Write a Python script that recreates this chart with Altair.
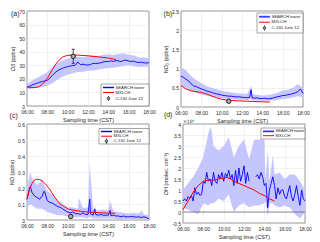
import altair as alt
import pandas as pd

FONT = "Liberation Sans"
BLUE = "#0000ff"
RED = "#ff0000"
BAND = "#c6c6ff"

# ---------- time grids (hours) ----------
T15 = [6 + 0.25 * i for i in range(49)]
T30 = [6 + 0.5 * i for i in range(25)]

# ---------- (a) O3 ----------
o3_blue = [13.8, 14.5, 15.5, 16.2, 16.8, 17.5, 18.0, 18.5, 19.0, 20.5, 22.5, 24.5, 26.0,
           27.0, 27.8, 28.5, 29.0, 29.5, 29.8, 30.0, 32.5, 30.5, 30.8, 30.3, 30.2, 30.5,
           31.5, 31.3, 31.5, 31.8, 32.5, 32.8, 32.7, 33.3, 32.8, 33.5, 33.2, 32.7, 33.6,
           33.8, 33.2, 32.8, 33.0, 32.4, 32.0, 32.3, 31.8, 31.7, 32.0]
o3_lo = [12.0, 12.8, 13.5, 14.2, 15.0, 16.8, 19.5, 21.5, 23.0, 24.2, 25.0, 25.3, 26.0,
         26.2, 26.8, 27.5, 28.0, 28.2, 28.8, 29.5, 30.0, 29.2, 28.8, 29.0, 29.0]
o3_hi = [16.0, 18.8, 20.8, 22.8, 25.0, 28.5, 31.5, 33.5, 35.0, 35.6, 36.2, 36.0, 36.5,
         37.2, 36.8, 37.8, 38.2, 37.5, 38.4, 38.8, 38.0, 37.2, 36.0, 35.8, 35.0]
o3_red_t = [6.0, 6.5, 7.0, 7.25, 7.5, 7.75, 8.0, 8.25, 8.5, 8.75, 9.0, 9.25, 9.5, 9.75,
            10.0, 10.5, 11.0, 11.5, 12.0, 12.5, 13.0, 13.5, 14.0, 14.5, 14.75]
o3_red = [14.0, 13.6, 13.8, 14.5, 16.0, 18.0, 20.5, 23.5, 27.0, 30.0, 32.5, 34.5, 36.0,
          36.8, 37.3, 37.5, 37.5, 37.2, 37.0, 36.6, 36.2, 35.8, 35.3, 34.6, 34.2]
o3_c130 = {"t": [10.55], "v": [36.6], "lo": [31.5], "hi": [41.8]}

# ---------- (b) NO2 ----------
no2_blue = [0.80, 0.77, 0.72, 0.68, 0.60, 0.55, 0.53, 0.50, 0.47, 0.45, 0.42, 0.40, 0.38,
            0.36, 0.34, 0.33, 0.31, 0.30, 0.29, 0.28, 0.28, 0.27, 0.26, 0.27, 0.25, 0.25,
            0.24, 0.25, 0.24, 0.23, 0.24, 0.22, 0.22, 0.23, 0.21, 0.22, 0.23, 0.25, 0.27,
            0.28, 0.30, 0.30, 0.32, 0.33, 0.35, 0.37, 0.40, 0.47, 0.35]
no2_spike_t = [12.9]
no2_spike_v = [0.45]
no2_lo = [0.55, 0.50, 0.42, 0.36, 0.32, 0.30, 0.27, 0.24, 0.22, 0.21, 0.20, 0.19, 0.18,
          0.18, 0.17, 0.17, 0.16, 0.16, 0.17, 0.18, 0.20, 0.22, 0.25, 0.28, 0.25]
no2_hi = [1.05, 0.95, 0.80, 0.70, 0.62, 0.55, 0.50, 0.46, 0.42, 0.40, 0.38, 0.36, 0.35,
          0.34, 0.33, 0.32, 0.30, 0.31, 0.33, 0.37, 0.42, 0.45, 0.50, 0.60, 0.50]
no2_band_spike = {"t": [12.9], "lo": [0.2], "hi": [0.55]}
no2_red_t = [6.0, 6.5, 7.0, 7.5, 8.0, 8.5, 9.0, 9.5, 10.0, 10.5, 11.0, 11.5, 12.0, 13.0,
             14.0, 14.75]
no2_red = [0.56, 0.47, 0.42, 0.40, 0.38, 0.34, 0.29, 0.24, 0.20, 0.18, 0.17, 0.16, 0.155,
           0.145, 0.135, 0.13]
no2_c130 = {"t": [10.7], "v": [0.15], "lo": [0.15], "hi": [0.15]}

# ---------- (c) NO ----------
no_blue = [0.130, 0.200, 0.170, 0.150, 0.140, 0.130, 0.150, 0.175, 0.120, 0.110, 0.105,
           0.095, 0.085, 0.080, 0.070, 0.060, 0.050, 0.045, 0.050, 0.040, 0.040, 0.035,
           0.045, 0.035, 0.035, 0.040, 0.030, 0.035, 0.030, 0.035, 0.030, 0.030, 0.030,
           0.028, 0.030, 0.025, 0.025, 0.020, 0.025, 0.020, 0.020, 0.022, 0.020, 0.018,
           0.020, 0.015, 0.020, 0.015, 0.008]
no_spike_t = [6.33, 7.67, 12.17, 12.67, 14.17]
no_spike_v = [0.21, 0.18, 0.13, 0.07, 0.06]
no_lo = [0.08, 0.09, 0.07, 0.07, 0.05, 0.04, 0.03, 0.03, 0.02, 0.02, 0.015, 0.015, 0.01,
         0.01, 0.01, 0.01, 0.01, 0.01, 0.005, 0.005, 0.005, 0.005, 0.0, 0.0, 0.0]
no_hi = [0.20, 0.26, 0.22, 0.25, 0.18, 0.16, 0.12, 0.10, 0.08, 0.08, 0.07, 0.075, 0.08,
         0.07, 0.06, 0.065, 0.06, 0.055, 0.05, 0.045, 0.04, 0.045, 0.04, 0.035, 0.03]
no_band_spike = {"t": [6.33, 11.1, 12.17, 14.17, 17.3],
                 "lo": [0.10, 0.02, 0.02, 0.01, 0.0],
                 "hi": [0.30, 0.14, 0.35, 0.12, 0.06]}
no_red_t = [6.0, 6.25, 6.5, 6.75, 7.0, 7.25, 7.5, 7.75, 8.0, 8.25, 8.5, 8.75, 9.0, 9.25,
            9.5, 9.75, 10.0, 10.5, 11.0, 11.5, 12.0, 13.0, 14.0, 14.67]
no_red = [0.13, 0.19, 0.23, 0.25, 0.255, 0.252, 0.245, 0.23, 0.21, 0.19, 0.165, 0.14, 0.12,
          0.10, 0.09, 0.08, 0.07, 0.062, 0.057, 0.053, 0.05, 0.046, 0.043, 0.042]
no_c130 = {"t": [10.3], "v": [0.022], "lo": [0.022], "hi": [0.022]}

# ---------- (d) OH (x1e6) ----------
oh_t1 = [6 + i / 6 for i in range(40)]
oh_v1 = [0.5, 0.6, 0.5, 0.7, 0.6, 0.75, 0.5, 1.1, 0.8, 0.9, 0.75, 0.8, 1.4, 1.3, 1.8, 1.4,
         1.5, 1.2, 1.8, 1.4, 1.3, 1.7, 1.5, 1.8, 1.4, 1.75, 1.6, 1.9, 1.5, 1.7, 1.2, 1.9,
         1.3, 2.0, 1.4, 1.7, 2.1, 1.3, 1.8, 1.4]
oh_t2 = [13 + 1 / 6 + i / 6 for i in range(30)]
oh_v2 = [1.6, 1.7, 1.5, 1.8, 1.6, 1.2, 1.3, 0.2, 1.0, 1.3, 1.6, 1.2, 0.6, 1.1, 0.8, 1.0,
         1.0, 0.7, 0.6, 0.9, 1.2, 0.7, 0.5, 0.8, 1.2, 0.7, 0.3, 1.0, 0.6, 0.5]
oh_band_t = [6.0, 6.5, 7.0, 7.5, 8.0, 8.5, 8.75, 9.0, 9.5, 10.0, 10.5, 11.0, 11.5, 12.0,
             12.5, 13.0, 13.5, 14.0, 14.1, 14.35, 14.5, 14.85, 15.0, 15.5, 16.0, 16.5,
             17.0, 17.5, 18.0]
oh_lo = [0.2, 0.1, 0.0, -0.1, 0.4, 0.3, 0.4, 0.4, 0.6, 0.5, 0.8, 0.0, 0.3, 0.4, 0.2, 0.3,
         0.3, 0.4, 0.5, -0.2, 0.4, 0.4, 0.3, 0.2, 0.3, 0.2, -0.1, -0.3, 0.0]
oh_hi = [1.0, 1.3, 1.6, 2.0, 2.5, 3.6, 3.9, 3.0, 2.8, 3.0, 3.4, 2.5, 3.0, 3.3, 2.4, 3.3,
         3.3, 3.3, 1.5, 2.8, 1.4, 2.6, 1.7, 1.8, 1.5, 1.7, 1.7, 1.4, 1.0]
oh_red_t = [6.0, 6.5, 7.0, 7.5, 8.0, 8.5, 9.0, 9.5, 10.0, 10.33, 10.67, 11.0, 11.5, 12.0,
            12.5, 13.0, 13.5, 14.0, 14.5, 15.0]
oh_red = [0.1, 0.5, 0.9, 1.2, 1.4, 1.45, 1.45, 1.5, 1.55, 1.57, 1.5, 1.4, 1.3, 1.2, 1.1,
          1.0, 0.85, 0.75, 0.6, 0.5]

X_TICKS = [6, 8, 10, 12, 14, 16, 18]
LEG_LABELS = ["SEARCH tower", "MXLCH", "C-130 June 12"]
ZERO = [0.0]
EXP = ["×10⁶"]
ONE = pd.DataFrame({"k": [0]})


def band_df(t, lo, hi, extra=None):
    df = pd.DataFrame({"t": t, "lo": lo, "hi": hi})
    if extra:
        df = pd.concat([df, pd.DataFrame(extra)])
    return df.sort_values("t")


def line_df(parts):
    frames = []
    for i, (t, v) in enumerate(parts):
        frames.append(pd.DataFrame({"t": t, "v": v, "seg": i}))
    return pd.concat(frames)


def merged(t, v, et, ev):
    df = pd.DataFrame({"t": list(t) + list(et), "v": list(v) + list(ev)}).sort_values("t")
    return list(df["t"]), list(df["v"])


XS = alt.Scale(domain=[6, 18], nice=False, zero=False)
XAX = alt.Axis(values=X_TICKS, labelOverlap=False, labelFlush=False, labelPadding=3,
               labelExpr="(datum.value<10?'0':'')+datum.value+':00'",
               title="Sampling time (CST)")


def XE(f="t"):
    return alt.X(f"{f}:Q", scale=XS, axis=XAX)


def legend_layers(box, rows, n):
    """box = (x0, x1, y0, y1) in plot pixels; rows = y of each row."""
    x0, x1, y0, y1 = box
    lx0, lx1, tx = x0 + 2, x0 + 13, x0 + 14.5
    out = [alt.Chart(ONE).mark_rect(fill="white", stroke="#4d4d4d", strokeWidth=0.5).encode(
        x=alt.value(x0), x2=alt.value(x1), y=alt.value(y0), y2=alt.value(y1))]
    out.append(alt.Chart(ONE).mark_rule(color=BAND, strokeWidth=3).encode(
        x=alt.value(lx0), x2=alt.value(lx1), y=alt.value(rows[0])))
    out.append(alt.Chart(ONE).mark_rule(color=BLUE, strokeWidth=1).encode(
        x=alt.value(lx0), x2=alt.value(lx1), y=alt.value(rows[0])))
    out.append(alt.Chart(ONE).mark_rule(color=RED, strokeWidth=1).encode(
        x=alt.value(lx0), x2=alt.value(lx1), y=alt.value(rows[1])))
    if n == 3:
        cx = (lx0 + lx1) / 2
        out.append(alt.Chart(ONE).mark_rule(color="black", strokeWidth=0.6).encode(
            x=alt.value(cx), y=alt.value(rows[2] - 2.6), y2=alt.value(rows[2] + 2.6)))
        out.append(alt.Chart(ONE).mark_point(
            filled=True, fill="#a8a8a8", stroke="black", strokeWidth=0.6, size=7,
            opacity=1).encode(x=alt.value(cx), y=alt.value(rows[2])))
    for i in range(n):
        out.append(alt.Chart(pd.DataFrame({"s": [LEG_LABELS[i]]})).mark_text(
            align="left", baseline="middle", fontSize=4.2, font=FONT, color="#262626").encode(
            x=alt.value(tx), y=alt.value(rows[i]), text="s:N"))
    return out


def panel(label, band, blue, red, c130, ydom, yvals, ytitle, height, box, rows,
          errbar=False, extra=None, toffset=-8):
    ys = alt.Scale(domain=ydom, nice=False, zero=False)
    yax = alt.Axis(values=yvals, labelExpr="'' + datum.value", title=ytitle,
                   labelOverlap=False, labelFlush=False, labelPadding=2.5)

    def YE(f):
        return alt.Y(f"{f}:Q", scale=ys, axis=yax)

    layers = [alt.Chart(band).mark_area(color=BAND, opacity=1).encode(
        x=XE(), y=YE("lo"), y2="hi:Q")]
    if extra is not None:
        layers.extend(extra(YE))
    layers.append(alt.Chart(blue).mark_line(color=BLUE, strokeWidth=0.9).encode(
        x=XE(), y=YE("v"), detail="seg:N"))
    layers.append(alt.Chart(red).mark_line(color=RED, strokeWidth=1).encode(
        x=XE(), y=YE("v")))
    n = 2
    if c130 is not None:
        n = 3
        cdf = pd.DataFrame(c130)
        if errbar:
            layers.append(alt.Chart(cdf).mark_rule(color="black", strokeWidth=0.7).encode(
                x=XE(), y=YE("lo"), y2="hi:Q"))
            for f in ["lo", "hi"]:
                layers.append(alt.Chart(cdf).transform_calculate(
                    a="datum.t-0.15", b="datum.t+0.15").mark_rule(
                    color="black", strokeWidth=0.7).encode(
                    x=XE("a"), x2="b:Q", y=YE(f)))
        layers.append(alt.Chart(cdf).mark_point(
            filled=True, fill="#a8a8a8", stroke="black", strokeWidth=0.8, size=20,
            opacity=1).encode(x=XE(), y=YE("v")))
    layers.extend(legend_layers(box, rows, n))
    return alt.layer(*layers).properties(
        width=122, height=height,
        title=alt.Title(label, anchor="start", frame="bounds", offset=toffset))


pa = panel("(a)", band_df(T30, o3_lo, o3_hi), line_df([(T15, o3_blue)]),
           pd.DataFrame({"t": o3_red_t, "v": o3_red}),
           o3_c130, [0, 70], [0, 10, 20, 30, 40, 50, 60, 70], "O3 (ppbv)", 95,
           (74, 122, 73, 95), [76.5, 81.5, 87.5], errbar=True)

bt, bv = merged(T15, no2_blue, no2_spike_t, no2_spike_v)
pb = panel("(b)", band_df(T30, no2_lo, no2_hi, no2_band_spike), line_df([(bt, bv)]),
           pd.DataFrame({"t": no2_red_t, "v": no2_red}),
           no2_c130, [0, 2.5], [0, 0.5, 1, 1.5, 2, 2.5], "NO₂ (ppbv)", 96,
           (76, 122, 2, 22), [5.8, 11.2, 17.0])

ct, cv = merged(T15, no_blue, no_spike_t, no_spike_v)
pc = panel("(c)", band_df(T30, no_lo, no_hi, no_band_spike), line_df([(ct, cv)]),
           pd.DataFrame({"t": no_red_t, "v": no_red}),
           no_c130, [0, 0.6], [0, 0.1, 0.2, 0.3, 0.4, 0.5, 0.6], "NO (ppbv)", 96,
           (72, 122, 4.5, 20), [7.5, 12.2, 17.2], toffset=3)


def oh_extra(YE):
    z = alt.Chart(pd.DataFrame({"y": ZERO})).mark_rule(
        color="#404040", strokeWidth=0.6).encode(y=YE("y"))
    e = alt.Chart(pd.DataFrame({"s": EXP})).mark_text(
        align="left", baseline="bottom", fontSize=4.5, font="DejaVu Sans",
        color="#262626").encode(x=alt.value(0), y=alt.value(-0.5), text="s:N")
    return [z, e]


pd_ = panel("(d)", band_df(oh_band_t, oh_lo, oh_hi), line_df([(oh_t1, oh_v1), (oh_t2, oh_v2)]),
            pd.DataFrame({"t": oh_red_t, "v": oh_red}),
            None, [-0.5, 4], [-0.5, 0, 0.5, 1, 1.5, 2, 2.5, 3, 3.5, 4],
            "OH (molec. cm⁻³)", 99, (78, 122, 4, 15), [7.3, 11.7], extra=oh_extra,
            toffset=0.5)

chart = alt.vconcat(
    alt.hconcat(pa, pb, spacing=7),
    alt.hconcat(pc, pd_, spacing=7),
    spacing=-14,
).properties(padding={"left": 1, "top": 0, "right": 0, "bottom": 0}).configure_view(
    stroke="#262626", strokeWidth=0.6
).configure_axis(
    labelFont=FONT, titleFont=FONT, labelFontSize=5, titleFontSize=5.5,
    titleFontWeight="normal", labelColor="#262626", titleColor="#262626",
    gridColor="#e2e2e2", gridWidth=0.5, domain=False, ticks=False,
    labelPadding=2.5, titlePadding=3, labelOverlap=False, labelFlush=False
).configure_title(
    font=FONT, fontSize=7, fontWeight="normal", color="#262626"
)

chart.save("out.html", embed_options={"renderer": "svg", "actions": False})
